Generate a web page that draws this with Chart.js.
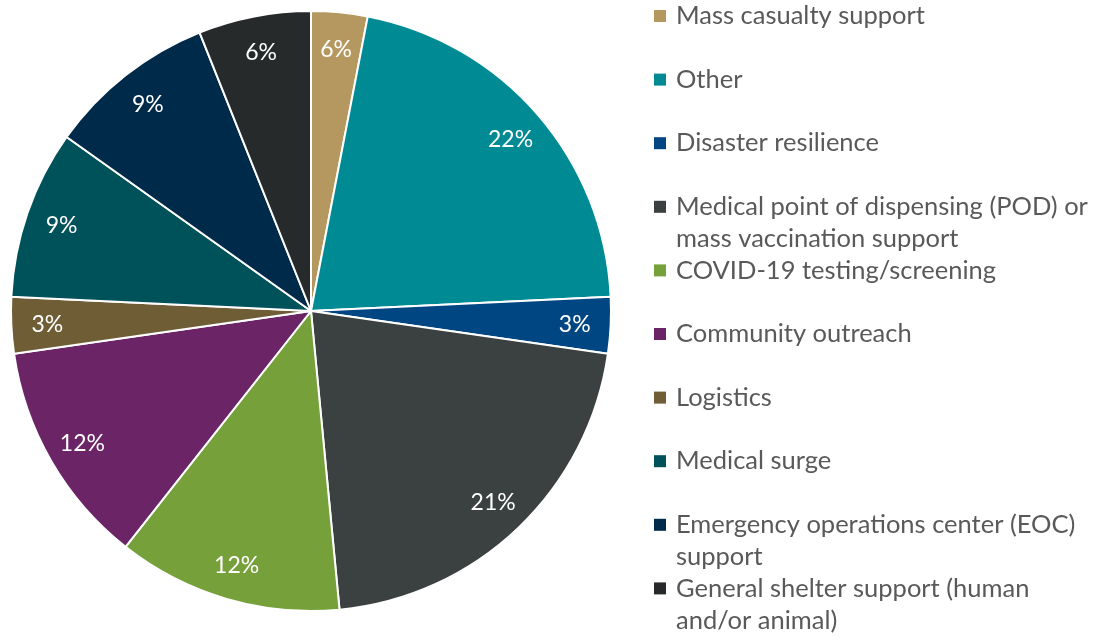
<!DOCTYPE html>
<html>
<head>
<meta charset="utf-8">
<script src="https://cdn.jsdelivr.net/npm/chart.js@4"></script>
<style>
  html, body { margin: 0; padding: 0; background: #fff; }
  #wrap { width: 1101px; height: 638px; position: relative; }
</style>
</head>
<body>
<div id="wrap"><canvas id="myChart"></canvas></div>
<script>
const labels = [
  "Mass casualty support",
  "Other",
  "Disaster resilience",
  ["Medical point of dispensing (POD) or", "mass vaccination support"],
  "COVID-19 testing/screening",
  "Community outreach",
  "Logistics",
  "Medical surge",
  ["Emergency operations center (EOC)", "support"],
  ["General shelter support (human", "and/or animal)"],
];
// number of responses per activity (slice sizes)
const counts = [1, 7, 1, 7, 4, 4, 1, 3, 3, 2];
// text printed on each slice, as in the original
const shareLabels = ["6%", "22%", "3%", "21%", "12%", "12%", "3%", "9%", "9%", "6%"];
const colors = [
  "#B4985F", "#008B94", "#004682", "#3B4041", "#76A03A",
  "#6B2466", "#6E5D35", "#00525A", "#002A4A", "#262A2B",
];

const FONT = "Lato, 'Open Sans', sans-serif";

const sliceText = {
  id: "sliceText",
  afterDatasetsDraw(chart) {
    const ctx = chart.ctx;
    const arcs = chart.getDatasetMeta(0).data;
    ctx.save();
    ctx.fillStyle = "#ffffff";
    ctx.font = "23px " + FONT;
    ctx.textAlign = "center";
    ctx.textBaseline = "middle";
    arcs.forEach((arc, i) => {
      const p = arc.getProps(["x", "y", "startAngle", "endAngle", "outerRadius"]);
      const mid = (p.startAngle + p.endAngle) / 2;
      const r = p.outerRadius * 0.88;
      ctx.fillText(shareLabels[i], p.x + Math.cos(mid) * r, p.y + Math.sin(mid) * r + 1);
    });
    ctx.restore();
  },
};

// legend on the right, fixed row pitch like the original (wrapped rows squeeze together)
const sideLegend = {
  id: "sideLegend",
  afterDraw(chart) {
    const ctx = chart.ctx;
    const x0 = 654, y0 = 16, step = 63.6, lineH = 32;
    ctx.save();
    ctx.font = "25.5px " + FONT;
    ctx.textBaseline = "middle";
    ctx.textAlign = "left";
    chart.data.labels.forEach((lab, i) => {
      const y = y0 + i * step;
      ctx.fillStyle = colors[i];
      ctx.fillRect(x0, y - 6, 12, 12);
      ctx.fillStyle = "#595959";
      const lines = Array.isArray(lab) ? lab : [lab];
      lines.forEach((t, j) => ctx.fillText(t, x0 + 22, y + j * lineH));
    });
    ctx.restore();
  },
};

new Chart(document.getElementById("myChart"), {
  type: "pie",
  data: {
    labels: labels,
    datasets: [
      {
        data: counts,
        backgroundColor: colors,
        borderColor: "#ffffff",
        borderWidth: 2,
      },
    ],
  },
  options: {
    responsive: true,
    maintainAspectRatio: false,
    animation: false,
    layout: { padding: { left: 10, top: 10, right: 489, bottom: 26 } },
    plugins: {
      legend: { display: false },
      tooltip: { enabled: false },
    },
  },
  plugins: [sliceText, sideLegend],
});
</script>
</body>
</html>
